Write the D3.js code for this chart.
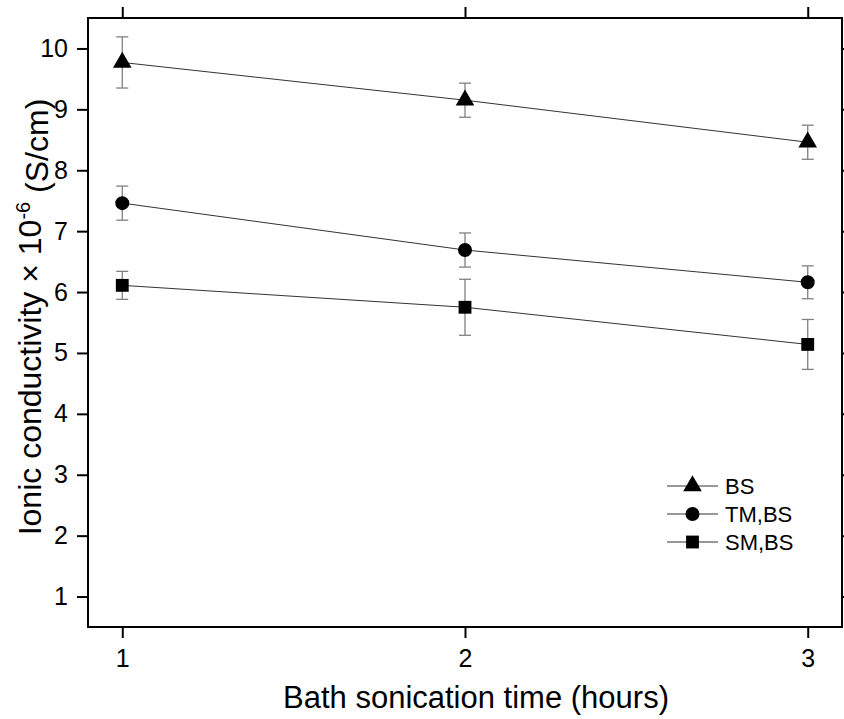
<!DOCTYPE html>
<html>
<head>
<meta charset="utf-8">
<script src="https://cdn.jsdelivr.net/npm/d3@7"></script>
<style>
  body { margin: 0; background: #fff; }
  text { font-family: "Liberation Sans", Arial, sans-serif; }
</style>
</head>
<body>
<div id="chart"></div>
<script>
const hours = [1, 2, 3];
const seriesNames = ["BS", "TM,BS", "SM,BS"];
const bsMean = [9.77, 9.15, 8.46];
const bsErr = [0.42, 0.28, 0.28];
const tmMean = [7.46, 6.69, 6.16];
const tmErr = [0.28, 0.28, 0.27];
const smMean = [6.11, 5.75, 5.14];
const smErr = [0.23, 0.46, 0.41];
const xTicks = [1, 2, 3];
const yTicks = [1, 2, 3, 4, 5, 6, 7, 8, 9, 10];

const width = 844, height = 719;
const margin = {top: 18, right: 2, bottom: 92, left: 88};
const w = width - margin.left - margin.right,
      h = height - margin.top - margin.bottom;

const x = d3.scaleLinear().domain([0.9, 3.1]).range([0, w]);
const y = d3.scaleLinear().domain([0.5, 10.5]).range([h, 0]);

const svg = d3.select("#chart").append("svg")
  .attr("width", width).attr("height", height)
  .append("g")
  .attr("transform", "translate(" + margin.left + "," + margin.top + ")");

// axes: ticks outward on all four sides
svg.append("g").attr("transform", "translate(0," + h + ")")
  .call(d3.axisBottom(x).tickValues(xTicks).tickFormat(d3.format("d")).tickSize(11).tickPadding(11))
  .call(g => g.selectAll("text").attr("font-size", 25));
svg.append("g")
  .call(d3.axisTop(x).tickValues(xTicks).tickFormat("").tickSize(11));
svg.append("g")
  .call(d3.axisLeft(y).tickValues(yTicks).tickFormat(d3.format("d")).tickSize(11).tickPadding(9))
  .call(g => g.selectAll("text").attr("font-size", 25));
svg.append("g").attr("transform", "translate(" + w + ",0)")
  .call(d3.axisRight(y).tickValues(yTicks).tickFormat("").tickSize(11));

svg.selectAll(".domain").remove();
svg.selectAll(".tick line").attr("stroke", "#000").attr("stroke-width", 2);
svg.selectAll(".tick text").attr("fill", "#000");

svg.append("rect")
  .attr("width", w).attr("height", h)
  .attr("fill", "none").attr("stroke", "#000").attr("stroke-width", 2);

const series = [
  {name: seriesNames[0], mean: bsMean, err: bsErr, sym: d3.symbolTriangle, size: 150},
  {name: seriesNames[1], mean: tmMean, err: tmErr, sym: d3.symbolCircle, size: 154},
  {name: seriesNames[2], mean: smMean, err: smErr, sym: d3.symbolSquare, size: 165}
];

const line = d3.line().x(d => x(d[0])).y(d => y(d[1]));

series.forEach(s => {
  const pts = hours.map((hr, i) => [hr, s.mean[i], s.err[i]]);
  const g = svg.append("g");

  g.append("path").datum(pts)
    .attr("d", line)
    .attr("fill", "none").attr("stroke", "#333").attr("stroke-width", 1);

  // error bars
  const eb = g.selectAll(".eb").data(pts).enter().append("g").attr("class", "eb")
    .attr("stroke", "#808080").attr("stroke-width", 1.3);
  eb.append("line")
    .attr("x1", d => x(d[0])).attr("x2", d => x(d[0]))
    .attr("y1", d => y(d[1] + d[2])).attr("y2", d => y(d[1] - d[2]));
  eb.append("line")
    .attr("x1", d => x(d[0]) - 6).attr("x2", d => x(d[0]) + 6)
    .attr("y1", d => y(d[1] + d[2])).attr("y2", d => y(d[1] + d[2]));
  eb.append("line")
    .attr("x1", d => x(d[0]) - 6).attr("x2", d => x(d[0]) + 6)
    .attr("y1", d => y(d[1] - d[2])).attr("y2", d => y(d[1] - d[2]));

  g.selectAll(".mk").data(pts).enter().append("path")
    .attr("transform", d => "translate(" + x(d[0]) + "," + y(d[1]) + ")")
    .attr("d", d3.symbol().type(s.sym).size(s.size))
    .attr("fill", "#000");
});

// legend
const legend = svg.append("g").attr("transform", "translate(" + (667 - margin.left) + "," + (486 - margin.top) + ")");
series.forEach((s, i) => {
  const row = legend.append("g").attr("transform", "translate(0," + (i * 28) + ")");
  row.append("line").attr("x1", 0).attr("x2", 51).attr("y1", 0).attr("y2", 0)
    .attr("stroke", "#333").attr("stroke-width", 1);
  row.append("path").attr("transform", "translate(25.5,0)")
    .attr("d", d3.symbol().type(s.sym).size(s.size)).attr("fill", "#000");
  row.append("text").attr("x", 58).attr("y", 0).attr("dy", "0.36em")
    .attr("font-size", 22).text(s.name);
});

// axis titles
svg.append("text")
  .attr("x", 388).attr("y", h + 81)
  .attr("text-anchor", "middle").attr("font-size", 31)
  .text("Bath sonication time (hours)");

const yl = svg.append("text")
  .attr("transform", "translate(" + (-margin.left + 41) + "," + 299 + ") rotate(-90)")
  .attr("text-anchor", "middle").attr("font-size", 32);
yl.append("tspan").text("Ionic conductivity \u00d7 10");
yl.append("tspan").attr("dy", "-0.55em").attr("font-size", 20).text("-6");
yl.append("tspan").attr("dy", "0.55em").text(" (S/cm)");
</script>
</body>
</html>
